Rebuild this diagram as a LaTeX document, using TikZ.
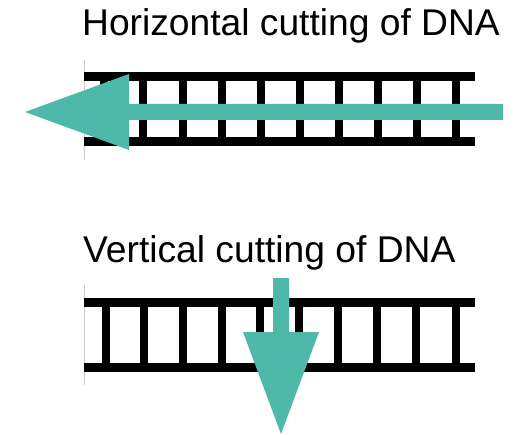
\documentclass[tikz,border=0pt]{standalone}
\usepackage{fontspec}
\setmainfont{Liberation Sans}
\definecolor{teal1}{RGB}{78,185,168}
\begin{document}
\begin{tikzpicture}[x=1pt,y=-1pt,
  rail/.style={fill=black},
  rung/.style={fill=black},
  arrowshape/.style={fill=teal1},
  title/.style={anchor=base west,inner sep=0pt,font=\fontsize{37.2}{40}\selectfont}]
\useasboundingbox (0,0) rectangle (513,435);
% titles
\node[title] (t1) at (82,36) {Horizontal cutting of DNA};
\node[title] (t2) at (83,262) {Vertical cutting of DNA};
% top ladder
\draw[black!20,line width=0.6pt] (84,60) -- (84,160);
\fill[rail] (84,72) rectangle (475,81);
\fill[rail] (84,137) rectangle (475,146);
\foreach \x in {104,143,183,222,261,300,339,378,417,456}
  \fill[rung] (\x-4,81) rectangle (\x+4,137);
% bottom ladder
\draw[black!20,line width=0.6pt] (84,285) -- (84,385);
\fill[rail] (84,298) rectangle (475,307);
\fill[rail] (84,363) rectangle (475,372);
\foreach \x in {106,144,183,222,260,299,338,377,416,456}
  \fill[rung] (\x-4,307) rectangle (\x+4,363);
% horizontal arrow
\fill[arrowshape] (503,104) -- (129,104) -- (129,74) -- (25,112) -- (129,150) -- (129,120) -- (503,120) -- cycle;
% vertical arrow
\fill[arrowshape] (273,278) -- (289,278) -- (289,332) -- (319,332) -- (281,434) -- (243,332) -- (273,332) -- cycle;
\end{tikzpicture}
\end{document}
